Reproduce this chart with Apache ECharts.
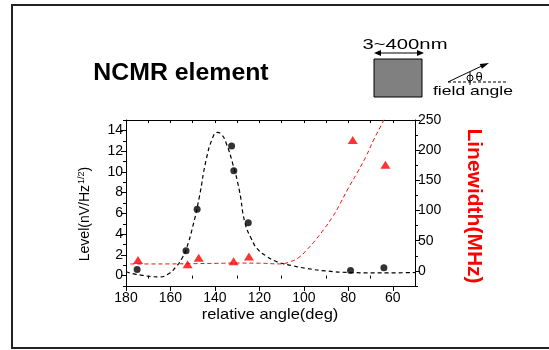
<!DOCTYPE html>
<html>
<head>
<meta charset="utf-8">
<script src="https://cdn.jsdelivr.net/npm/echarts@6/dist/echarts.min.js"></script>
<style>html,body{margin:0;padding:0;background:#fff;}#c{width:549px;height:350px;}</style>
</head>
<body>
<div id="c"></div>
<script>
// ---- data ----
var levelPoints = [[175,0.6],[153,2.4],[148,6.4],[132.5,12.5],[131.5,10.1],[125,5.1],[79,0.5],[64,0.75]];
var linewidthPoints = [[174.6,18],[152.3,11],[147.3,22],[131.6,16],[124.7,24],[78,217],[63.3,176]];
var levelFit = [[180,0.37],[176,0.15],[172.6,0.03],[169,-0.08],[165,-0.12],[161,0.15],[157.5,0.85],[155,1.6],[153,2.5],[150,4.7],[147,7.6],[144,11.1],[141,13.3],[139,13.8],[137,13.6],[135,12.8],[132,10.8],[129,8.2],[126.5,5.1],[123.5,3.5],[121,2.6],[117,1.9],[112,1.33],[105,0.95],[99,0.7],[90,0.45],[79,0.3],[70,0.27],[60,0.27],[50,0.3]];
var linewidthFit = [[178,11.5],[170,11.5],[160,11.6],[150,12],[140,12.5],[130,13],[120,12.8],[111,11.6],[106,15.4],[102,23],[98.7,34.8],[95,50],[91.2,68],[87,90],[83.6,112],[80,137],[76.1,162],[72,190],[68.6,217],[64,250],[60,280]];
var xMajor = [60,80,100,120,140,160,180];
var xMinor = [50,70,90,110,130,150,170];
var xAll = [50,60,70,80,90,100,110,120,130,140,150,160,170,180];
var levelMajor = [0,2,4,6,8,10,12,14];
var levelMinor = [-1,1,3,5,7,9,11,13,15];
var lwMajor = [0,50,100,150,200,250];
var lwMinor = [-25,25,75,125,175,225];

var FONT = 'Liberation Sans, Arial, sans-serif';
var chart = echarts.init(document.getElementById('c'), null, {renderer:'canvas'});
var grid = {left:126, right:134, top:120, bottom:64};
function xax(extra){
  return Object.assign({type:'value', min:50, max:180, inverse:true, gridIndex:0,
    splitLine:{show:false}, axisLine:{show:false}, axisTick:{show:false}, axisLabel:{show:false}}, extra);
}
function yax(extra){
  return Object.assign({type:'value', gridIndex:0,
    splitLine:{show:false}, axisLine:{show:false}, axisTick:{show:false}, axisLabel:{show:false}}, extra);
}
var axLine = {show:true, onZero:false, lineStyle:{color:'#000', width:1}};
var option = {
  animation:false,
  backgroundColor:'#fff',
  grid: grid,
  xAxis:[
    xax({position:'bottom', axisLine:axLine,
      axisTick:{show:true, customValues:xMajor, length:5, lineStyle:{color:'#000'}},
      axisLabel:{show:true, customValues:xMajor, fontSize:14, color:'#000', fontFamily:FONT, margin:5}}),
    xax({position:'bottom',
      axisTick:{show:true, customValues:xMinor, length:3, lineStyle:{color:'#000'}}}),
    xax({position:'top', axisLine:axLine,
      axisTick:{show:true, inside:true, customValues:xAll, length:3, lineStyle:{color:'#000'}}})
  ],
  yAxis:[
    yax({position:'left', min:-1, max:15, axisLine:axLine,
      axisTick:{show:true, customValues:levelMajor, length:5, lineStyle:{color:'#000'}},
      axisLabel:{show:true, customValues:levelMajor, fontSize:14, color:'#000', fontFamily:FONT, margin:3}}),
    yax({position:'right', min:-25, max:250, axisLine:axLine,
      axisTick:{show:true, customValues:lwMajor, length:5, lineStyle:{color:'#000'}},
      axisLabel:{show:true, customValues:lwMajor, fontSize:14, color:'#000', fontFamily:FONT, margin:3}}),
    yax({position:'left', min:-1, max:15,
      axisTick:{show:true, customValues:levelMinor, length:3, lineStyle:{color:'#000'}}}),
    yax({position:'right', min:-25, max:250,
      axisTick:{show:true, customValues:lwMinor, length:3, lineStyle:{color:'#000'}}})
  ],
  series:[
    {type:'line', xAxisIndex:0, yAxisIndex:0, data:levelFit, smooth:true, symbol:'none', clip:true,
      lineStyle:{color:'#000', width:1.2, type:[4,3]}, z:2},
    {type:'line', xAxisIndex:0, yAxisIndex:1, data:linewidthFit, smooth:true, symbol:'none', clip:true,
      lineStyle:{color:'#ff0000', width:1, type:[4,3]}, z:2},
    {type:'scatter', xAxisIndex:0, yAxisIndex:0, data:levelPoints, symbol:'circle', symbolSize:7,
      itemStyle:{color:'#000'}, z:3},
    {type:'scatter', xAxisIndex:0, yAxisIndex:1, data:linewidthPoints, symbol:'triangle', symbolSize:[10,8],
      itemStyle:{color:'#ff0000'}, z:3}
  ],
  graphic:[
    {type:'rect', shape:{x:12, y:5, width:600, height:343}, style:{fill:'none', stroke:'#222', lineWidth:2}, z:100},
    {type:'text', x:181, y:74, scaleX:1.08, style:{text:'NCMR element', fontSize:23, fontWeight:'bold', fontFamily:FONT, fill:'#000', align:'center', verticalAlign:'middle'}},
    {type:'text', x:405, y:45, scaleX:1.35, style:{text:'3~400nm', fontSize:15, fontFamily:FONT, fill:'#000', align:'center', verticalAlign:'middle'}},
    {type:'line', shape:{x1:377, y1:53, x2:421, y2:53}, style:{stroke:'#000', lineWidth:1}},
    {type:'polygon', shape:{points:[[374,53],[381,50],[381,56]]}, style:{fill:'#000'}},
    {type:'polygon', shape:{points:[[424,53],[417,50],[417,56]]}, style:{fill:'#000'}},
    {type:'rect', shape:{x:374, y:59, width:48, height:38}, style:{fill:'#808080', stroke:'#000', lineWidth:1}},
    {type:'line', shape:{x1:448, y1:82, x2:508, y2:82}, style:{stroke:'#000', lineWidth:1, lineDash:[3,2]}},
    {type:'line', shape:{x1:448, y1:82, x2:483, y2:65.4}, style:{stroke:'#000', lineWidth:1}},
    {type:'polygon', shape:{points:[[489,63],[481.9,68.7],[479.7,64.1]]}, style:{fill:'#000'}},
    {type:'line', shape:{x1:470, y1:72, x2:470, y2:85}, style:{stroke:'#000', lineWidth:1}},
    {type:'circle', shape:{cx:470, cy:78, r:3}, style:{fill:'none', stroke:'#000', lineWidth:1}},
    {type:'text', x:479, y:77, style:{text:'θ', fontSize:13, fontFamily:FONT, fill:'#000', align:'center', verticalAlign:'middle'}},
    {type:'text', x:473, y:91, scaleX:1.35, style:{text:'field angle', fontSize:13, fontFamily:FONT, fill:'#000', align:'center', verticalAlign:'middle'}},
    {type:'text', x:85, y:214, rotation:Math.PI/2, style:{text:'{a|Level(nV/Hz}{s|1/2}{a|)}', fill:'#000', align:'center', verticalAlign:'middle',
      rich:{a:{fontSize:14, fontFamily:FONT, fill:'#000', lineHeight:16}, s:{fontSize:9, fontFamily:FONT, fill:'#000', verticalAlign:'top', lineHeight:16, padding:[0,0,6,1]}}}},
    {type:'text', x:474, y:206, rotation:-Math.PI/2, style:{text:'Linewidth(MHz)', fontSize:21, fontWeight:'bold', fontFamily:FONT, fill:'#ff0000', align:'center', verticalAlign:'middle'}},
    {type:'text', x:270, y:315, scaleX:1.1, style:{text:'relative angle(deg)', fontSize:15, fontFamily:FONT, fill:'#000', align:'center', verticalAlign:'middle'}}
  ]
};
chart.setOption(option);
</script>
</body>
</html>
